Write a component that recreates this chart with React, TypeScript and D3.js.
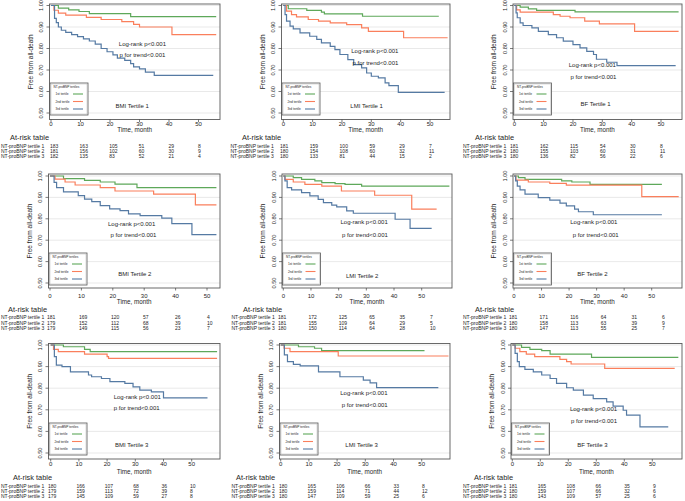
import React from 'react';
import * as d3 from 'd3';

type Pt = [number, number];

// ---------- DATA ----------
const xTickValues = [0, 10, 20, 30, 40, 50];
const yTickValues = [0.5, 0.6, 0.7, 0.8, 0.9, 1.0];
const yTickLabels = ['0.50', '0.60', '0.70', '0.80', '0.90', '1.00'];
const seriesNames = ['1st tertile', '2nd tertile', '3rd tertile'];
const riskRowLabels = ['NT-proBNP tertile 1', 'NT-proBNP tertile 2', 'NT-proBNP tertile 3'];
const panelTitles = [
  'BMI Tertile 1', 'LMI Tertile 1', 'BF Tertile 1',
  'BMI Tertile 2', 'LMI Tertile 2', 'BF Tertile 2',
  'BMI Tertile 3', 'LMI Tertile 3', 'BF Tertile 3',
];
const logRankText = 'Log-rank p<0.001';
const trendText = 'p for trend<0.001';

// Kaplan-Meier steps [time, survival]
const bmi1G: Pt[] = [[0,1],[2.5,0.988],[6,0.98],[9.5,0.972],[13,0.962],[27,0.948],[56,0.948]];
const bmi1O: Pt[] = [[0,1],[1,0.978],[2.5,0.965],[5,0.955],[12,0.945],[17,0.935],[24,0.925],[28,0.912],[30,0.9],[41,0.865],[56,0.865]];
const bmi1B: Pt[] = [[0,1],[1.2,0.94],[1.8,0.92],[2.5,0.9],[3.5,0.885],[5,0.875],[7,0.865],[9,0.855],[11,0.845],[13,0.835],[15,0.82],[17,0.8],[19,0.785],[21,0.77],[22.5,0.755],[25,0.745],[27,0.73],[28,0.715],[30,0.705],[32,0.69],[35,0.675],[55,0.675]];

const lmi1G: Pt[] = [[0,1],[1.7,0.985],[8,0.977],[13,0.969],[14,0.961],[27,0.95],[53,0.95]];
const lmi1O: Pt[] = [[0,1],[1.1,0.974],[2.8,0.958],[4.5,0.947],[8.5,0.935],[12,0.927],[16,0.919],[21.6,0.911],[26.7,0.896],[29,0.88],[41,0.85],[56,0.85]];
const lmi1B: Pt[] = [[0,1],[0.6,0.958],[1.1,0.927],[2.3,0.904],[3.4,0.891],[5.7,0.873],[9,0.857],[11.4,0.842],[13,0.826],[16,0.81],[17.6,0.795],[19.3,0.772],[22,0.748],[24,0.725],[26.7,0.71],[28.4,0.686],[30,0.671],[32.4,0.663],[34.7,0.64],[36,0.627],[39.2,0.596],[55,0.596]];

const bf1G: Pt[] = [[0,1],[2,0.992],[4.8,0.984],[7.6,0.977],[20.7,0.97],[56,0.97]];
const bf1O: Pt[] = [[0,1],[0.8,0.98],[2,0.969],[13.3,0.958],[15.6,0.95],[19,0.943],[24,0.927],[29,0.915],[41,0.88],[56,0.88]];
const bf1B: Pt[] = [[0,1],[0.6,0.966],[1,0.943],[2,0.919],[3,0.907],[6,0.896],[8.2,0.88],[11.6,0.865],[14.4,0.85],[16.7,0.834],[20,0.818],[22.4,0.803],[24.7,0.787],[27,0.772],[28,0.75],[31.5,0.736],[35,0.72],[55,0.72]];

const bmi2G: Pt[] = [[0,1],[4.3,0.988],[11,0.98],[16,0.972],[20.7,0.962],[27.7,0.946],[53,0.946]];
const bmi2O: Pt[] = [[0,1],[1.6,0.985],[4.8,0.972],[8,0.958],[16,0.946],[20.7,0.93],[33,0.915],[46.3,0.865],[53,0.865]];
const bmi2B: Pt[] = [[0,1],[1.3,0.97],[2.1,0.946],[4.3,0.926],[9,0.908],[11,0.892],[13.3,0.88],[16,0.862],[19,0.846],[22.3,0.838],[25,0.823],[28.7,0.815],[35.6,0.803],[38.8,0.777],[45.2,0.726],[53,0.726]];

const lmi2G: Pt[] = [[0,1],[3.6,0.992],[6.6,0.984],[11.4,0.977],[13.9,0.969],[18.7,0.964],[22.3,0.961],[28.3,0.953],[60,0.953]];
const lmi2O: Pt[] = [[0,1],[0.6,0.984],[3.6,0.972],[7.8,0.961],[13.9,0.953],[21,0.93],[33,0.91],[46.4,0.845],[55.4,0.845]];
const lmi2B: Pt[] = [[0,1],[0.6,0.977],[1.4,0.946],[3,0.935],[6.6,0.922],[9.6,0.907],[12.6,0.891],[14.5,0.876],[17.5,0.864],[19.3,0.856],[22.9,0.837],[25.3,0.826],[40.4,0.798],[45.8,0.755],[53.6,0.755]];

const bf2G: Pt[] = [[0,1],[1.6,0.992],[4,0.984],[17.3,0.977],[21,0.972],[27.6,0.961],[53.7,0.961]];
const bf2O: Pt[] = [[0,1],[0.7,0.981],[5.2,0.972],[13,0.966],[19,0.957],[46.4,0.904],[59.8,0.904]];
const bf2B: Pt[] = [[0,1],[0.6,0.977],[1.2,0.953],[2.2,0.935],[4,0.915],[8.8,0.899],[13,0.887],[16.7,0.873],[19,0.86],[22,0.845],[23.4,0.833],[28.8,0.819],[53.7,0.819]];

const bmi3G: Pt[] = [[0,1],[4.5,0.992],[12,0.98],[14,0.969],[59,0.969]];
const bmi3O: Pt[] = [[0,1],[1,0.98],[2.7,0.969],[12,0.958],[20,0.946],[20.5,0.938],[59,0.938]];
const bmi3B: Pt[] = [[0,1],[1.3,0.946],[2,0.907],[4,0.9],[7,0.876],[13.4,0.861],[14.5,0.853],[18,0.845],[21,0.83],[26.3,0.822],[29.2,0.806],[31.6,0.791],[35.7,0.783],[40,0.755],[55.6,0.755]];

const lmi3G: Pt[] = [[0,1],[6.3,0.992],[12,0.985],[14.5,0.974],[51,0.974]];
const lmi3O: Pt[] = [[0,1],[1.2,0.985],[3.3,0.969],[20.4,0.949],[59.5,0.949]];
const lmi3B: Pt[] = [[0,1],[1.3,0.954],[2.4,0.923],[4.5,0.91],[6.9,0.903],[13.4,0.876],[21,0.853],[29.3,0.837],[31.7,0.825],[34,0.803],[55.9,0.803]];

const bf3G: Pt[] = [[0,1],[3.3,0.989],[6.3,0.98],[10.5,0.974],[13.5,0.958],[28.3,0.943],[59.3,0.943]];
const bf3O: Pt[] = [[0,1],[1,0.985],[2.7,0.969],[5,0.958],[8,0.946],[17,0.933],[19.4,0.923],[21,0.912],[33,0.892],[58,0.892]];
const bf3B: Pt[] = [[0,1],[1,0.961],[1.8,0.923],[2.5,0.9],[4.5,0.887],[7.5,0.876],[10.5,0.861],[13.5,0.845],[15.8,0.822],[19.4,0.802],[21.8,0.791],[25.4,0.768],[28.9,0.752],[33.7,0.737],[36,0.717],[39.6,0.698],[40.8,0.675],[45.6,0.621],[55.7,0.621]];

const panelCurves: Pt[][][] = [
  [bmi1G, bmi1O, bmi1B], [lmi1G, lmi1O, lmi1B], [bf1G, bf1O, bf1B],
  [bmi2G, bmi2O, bmi2B], [lmi2G, lmi2O, lmi2B], [bf2G, bf2O, bf2B],
  [bmi3G, bmi3O, bmi3B], [lmi3G, lmi3O, lmi3B], [bf3G, bf3O, bf3B],
];

// at-risk numbers
const risk1 = [[183,163,105,51,29,8],[181,156,102,60,30,9],[182,135,83,52,21,4]];
const risk2 = [[181,159,100,59,29,7],[180,154,108,60,32,11],[180,133,81,44,15,2]];
const risk3 = [[181,162,115,54,30,8],[180,155,103,60,31,11],[180,136,82,56,22,6]];
const risk4 = [[181,169,120,57,26,4],[179,152,112,68,39,10],[179,149,115,56,23,7]];
const risk5 = [[181,172,125,65,35,7],[181,155,109,64,29,5],[180,150,114,64,28,10]];
const risk6 = [[181,171,116,64,31,6],[180,158,113,63,39,9],[180,147,113,55,25,7]];
const risk7 = [[180,166,107,68,36,10],[179,159,113,72,39,8],[179,145,109,59,27,8]];
const risk8 = [[180,165,106,66,33,8],[180,159,114,71,44,12],[180,147,109,59,25,6]];
const risk9 = [[181,165,108,66,35,9],[180,159,107,66,32,6],[180,143,109,57,25,6]];
const panelRisk = [risk1, risk2, risk3, risk4, risk5, risk6, risk7, risk8, risk9];

// ---------- LAYOUT ----------
const colors = ['#5ea85a', '#fa7f5c', '#557aa3'];
const FONT = '"Liberation Sans", Arial, Helvetica, sans-serif';
const TXT = '#1e1e1e';

const rowsLayout = [
  { y1: 5.5, y05: 113, top: 4, bottom: 119.5, tickY: 124, timeY: 129.5, atRiskY: 137, rowsY: [146, 151, 156] },
  { y1: 176, y05: 283, top: 174, bottom: 288, tickY: 296, timeY: 301, atRiskY: 309, rowsY: [317, 322.5, 328] },
  { y1: 345, y05: 453, top: 343.5, bottom: 459, tickY: 463.5, timeY: 471, atRiskY: 477, rowsY: [486, 491, 496] },
];

const panelsLayout = [
  { row: 0, x0: 51, x50: 198.5, left: 49.5, right: 220, tx0: 50, tx50: 198, labX: 1, arX: 10, log: [31, 0.823], trend: [31, 0.77], title: [27.5, 0.534] },
  { row: 0, x0: 283.3, x50: 430, left: 281.5, right: 450, tx0: 280, tx50: 429, labX: 230.5, arX: 242, log: [31.2, 0.787], trend: [31.4, 0.733], title: [28.4, 0.531] },
  { row: 0, x0: 514.3, x50: 661, left: 513, right: 682, tx0: 510, tx50: 660, labX: 463, arX: 475, log: [26.6, 0.725], trend: [27, 0.668], title: [27.7, 0.542] },
  { row: 1, x0: 50, x50: 207, left: 48.5, right: 220, tx0: 47, tx50: 207, labX: 1, arX: 8, log: [26, 0.777], trend: [26.6, 0.723], title: [27, 0.542] },
  { row: 1, x0: 283.3, x50: 421.7, left: 282, right: 452, tx0: 278, tx50: 430, labX: 231.5, arX: 243, log: [29.2, 0.783], trend: [29.5, 0.724], title: [28.5, 0.535] },
  { row: 1, x0: 514, x50: 651.7, left: 513, right: 682, tx0: 509, tx50: 662, labX: 463, arX: 475, log: [29, 0.783], trend: [29.7, 0.724], title: [28.5, 0.543] },
  { row: 2, x0: 50.7, x50: 191.7, left: 48.5, right: 220, tx0: 48, tx50: 190, labX: 1, arX: 13, log: [30.7, 0.76], trend: [30.5, 0.71], title: [28.7, 0.535] },
  { row: 2, x0: 280.7, x50: 421.7, left: 279.5, right: 450, tx0: 279, tx50: 422, labX: 231.5, arX: 236, log: [29.5, 0.779], trend: [29.8, 0.72], title: [28.7, 0.535] },
  { row: 2, x0: 512.3, x50: 652.3, left: 511, right: 682, tx0: 509, tx50: 653, labX: 463, arX: 474, log: [29, 0.703], trend: [29.2, 0.648], title: [28.6, 0.535] },
];

function Panel({ idx }: { idx: number }) {
  const p = panelsLayout[idx];
  const r = rowsLayout[p.row];
  const x = d3.scaleLinear().domain([0, 50]).range([p.x0, p.x50]);
  const y = d3.scaleLinear().domain([0.5, 1]).range([r.y05, r.y1]);
  const tx = d3.scaleLinear().domain([0, 5]).range([p.tx0, p.tx50]);
  const line = d3.line<Pt>().x(d => x(d[0])).y(d => y(d[1])).curve(d3.curveStepAfter);
  const curves = panelCurves[idx];
  const risk = panelRisk[idx];
  const midY = (r.top + r.bottom) / 2;
  const midX = (p.left + p.right) / 2;
  const legL = p.left + 0.5;
  const legT = r.y05 - 30;
  const legW = 38, legH = 32;
  return (
    <g fontFamily={FONT} fill={TXT}>
      {yTickValues.map(v => (
        <line key={'g' + v} x1={p.left} x2={p.right} y1={y(v)} y2={y(v)} stroke="#e3e3e3" strokeWidth={0.8} />
      ))}
      {curves.map((c, i) => (
        <path key={'c' + i} d={line(c) || ''} fill="none" stroke={colors[i]} strokeWidth={1.2} />
      ))}
      <rect x={p.left} y={r.top} width={p.right - p.left} height={r.bottom - r.top} fill="none" stroke="#5a5a5a" strokeWidth={0.9} />
      {yTickValues.map((v, i) => (
        <g key={'yt' + v}>
          <line x1={p.left - 3} x2={p.left} y1={y(v)} y2={y(v)} stroke="#444" strokeWidth={0.7} />
          <text transform={`translate(${p.left - 8.5},${y(v)}) rotate(-90)`} textAnchor="middle" dominantBaseline="central" fontSize={5.6}>{yTickLabels[i]}</text>
        </g>
      ))}
      {xTickValues.map(v => (
        <g key={'xt' + v}>
          <line x1={x(v)} x2={x(v)} y1={r.bottom} y2={r.bottom + 2.5} stroke="#444" strokeWidth={0.7} />
          <text x={x(v)} y={r.tickY} textAnchor="middle" dominantBaseline="central" fontSize={6}>{v}</text>
        </g>
      ))}
      <text x={midX} y={r.timeY} textAnchor="middle" dominantBaseline="central" fontSize={6.3}>Time, month</text>
      <text transform={`translate(${p.left - 19.5},${midY}) rotate(-90)`} textAnchor="middle" dominantBaseline="central" fontSize={6.5}>Free from all-death</text>
      <text x={x(p.log[0])} y={y(p.log[1])} textAnchor="middle" dominantBaseline="central" fontSize={6}>{logRankText}</text>
      <text x={x(p.trend[0])} y={y(p.trend[1])} textAnchor="middle" dominantBaseline="central" fontSize={6}>{trendText}</text>
      <text x={x(p.title[0])} y={y(p.title[1])} textAnchor="middle" dominantBaseline="central" fontSize={6}>{panelTitles[idx]}</text>
      <rect x={legL} y={legT} width={legW} height={legH} fill="#fff" stroke="#555" strokeWidth={0.8} />
      <rect x={legL + 1} y={legT + 1} width={legW - 2} height={legH - 2} fill="none" stroke="#aaa" strokeWidth={0.4} />
      <text x={legL + 3.5} y={legT + 4} dominantBaseline="central" fontSize={3.1}>NT-proBNP tertiles</text>
      {seriesNames.map((s, i) => {
        const yy = legT + 11 + i * 7.5;
        return (
          <g key={'l' + i}>
            <text x={legL + 5.5} y={yy} dominantBaseline="central" fontSize={3.2}>{s}</text>
            <line x1={legL + 23} x2={legL + 33} y1={yy} y2={yy} stroke={colors[i]} strokeWidth={1.1} />
          </g>
        );
      })}
      <text x={p.arX} y={r.atRiskY} dominantBaseline="central" fontSize={7.4}>At-risk table</text>
      {riskRowLabels.map((lab, i) => (
        <g key={'r' + i}>
          <text x={p.labX} y={r.rowsY[i]} dominantBaseline="central" fontSize={5}>{lab}</text>
          {risk[i].map((n, j) => (
            <text key={j} x={tx(j)} y={r.rowsY[i]} dominantBaseline="central" fontSize={5}>{n}</text>
          ))}
        </g>
      ))}
    </g>
  );
}

export default function App() {
  return (
    <svg width={685} height={501} viewBox="0 0 685 501" style={{ position: 'absolute', left: 0, top: 0, display: 'block', background: '#fff' }}>
      <rect x={0} y={0} width={685} height={501} fill="#fff" />
      {panelsLayout.map((_, i) => <Panel key={i} idx={i} />)}
    </svg>
  );
}
